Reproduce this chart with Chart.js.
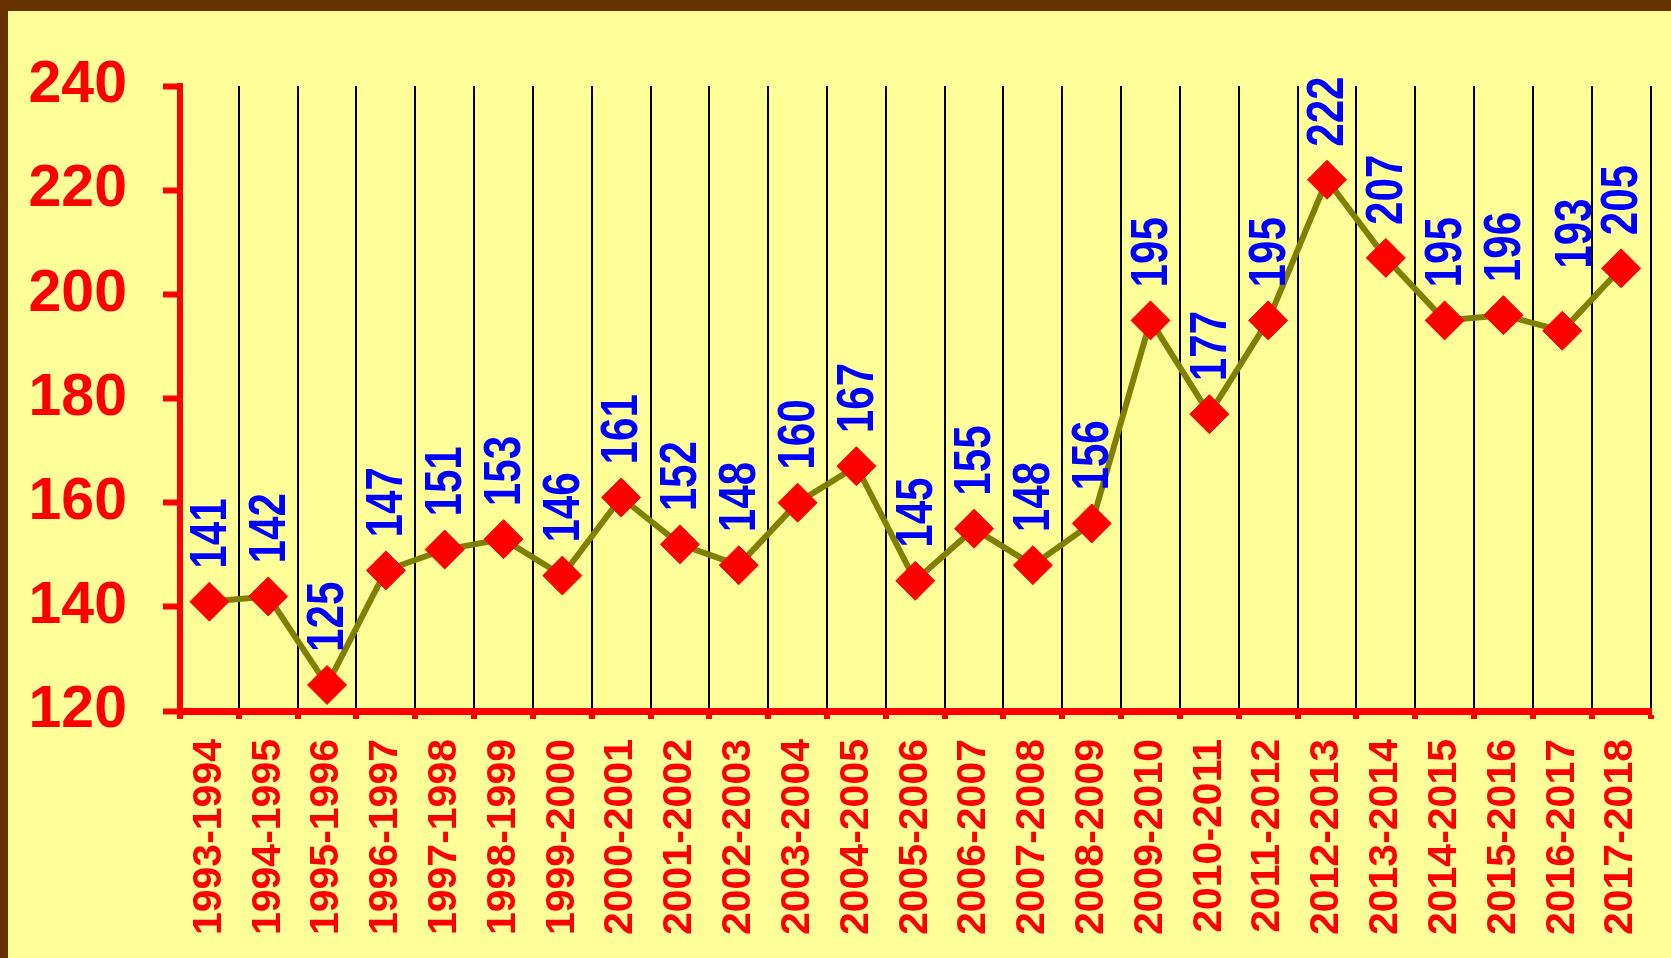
<!DOCTYPE html>
<html>
<head>
<meta charset="utf-8">
<script src="https://cdn.jsdelivr.net/npm/chart.js"></script>
<style>
    html, body { margin: 0; padding: 0; background: #663300; width: 1671px; height: 958px; overflow: hidden; }
    #wrap { position: absolute; left: 8px; top: 11px; width: 1663px; height: 947px; background: #FFFF99; }
</style>
</head>
<body>
<div id="wrap"><canvas id="lineChart" width="1663" height="947"></canvas></div>
<script>
// Seasons (x axis)
const seasons = ['1993-1994', '1994-1995', '1995-1996', '1996-1997', '1997-1998', '1998-1999', '1999-2000',
    '2000-2001', '2001-2002', '2002-2003', '2003-2004', '2004-2005', '2005-2006', '2006-2007', '2007-2008',
    '2008-2009', '2009-2010', '2010-2011', '2011-2012', '2012-2013', '2013-2014', '2014-2015', '2015-2016',
    '2016-2017', '2017-2018'];

// Values per season
const values = [141, 142, 125, 147, 151, 153, 146, 161, 152, 148, 160, 167, 145, 155, 148, 156,
    195, 177, 195, 222, 207, 195, 196, 193, 205];

// Y axis ticks
const yTicks = [120, 140, 160, 180, 200, 220, 240];

const fontFamily = "'Liberation Sans', Arial, sans-serif";

// Labels drawn rotated above each diamond
const valueLabels = {
    id: 'valueLabels',
    afterDatasetsDraw(chart) {
        const ctx = chart.ctx;
        const meta = chart.getDatasetMeta(0);
        ctx.save();
        ctx.fillStyle = '#0000FF';
        ctx.font = 'bold 52px ' + fontFamily;
        ctx.textAlign = 'left';
        ctx.textBaseline = 'middle';
        meta.data.forEach((pt, i) => {
            let dx = 2, gap = 33;
            if (i === 23) { dx = 14; gap = 62; } // 2016-2017 label sits higher in the original
            ctx.save();
            ctx.translate(pt.x + dx, pt.y - gap);
            ctx.rotate(-Math.PI / 2);
            ctx.scale(0.81, 1);
            ctx.fillText(String(values[i]), 0, 0);
            ctx.restore();
        });
        ctx.restore();
    }
};

const ctx = document.getElementById('lineChart').getContext('2d');

const lineChart = new Chart(ctx, {
    type: 'line',
    data: {
        labels: seasons,
        datasets: [{
            data: values,
            borderColor: '#808000',
            borderWidth: 6,
            tension: 0,
            pointStyle: 'rectRot',
            pointRadius: 19.5,
            pointBackgroundColor: '#FF0000',
            pointBorderColor: '#FF0000',
            pointBorderWidth: 1,
            clip: false
        }]
    },
    options: {
        responsive: false,
        animation: false,
        layout: { padding: { left: 0, top: 75, right: 18, bottom: 0 } },
        plugins: {
            legend: { display: false },
            tooltip: { enabled: false }
        },
        scales: {
            x: {
                offset: true,
                grid: {
                    offset: true,
                    color: '#000000',
                    lineWidth: 2,
                    drawOnChartArea: true,
                    tickColor: '#FF0000',
                    tickWidth: 6,
                    tickLength: 8
                },
                border: { color: '#FF0000', width: 7 },
                ticks: {
                    color: '#FF0000',
                    font: { family: fontFamily, size: 41, weight: 'bold' },
                    minRotation: 90,
                    maxRotation: 90,
                    padding: 20,
                    autoSkip: false
                },
                afterFit(scale) {
                    scale.height = 247;
                    scale.paddingLeft = 0;
                    scale.paddingRight = 0;
                }
            },
            y: {
                min: yTicks[0],
                max: yTicks[yTicks.length - 1],
                afterBuildTicks(scale) { scale.ticks = yTicks.map(v => ({ value: v })); },
                grid: {
                    drawOnChartArea: false,
                    tickColor: '#FF0000',
                    tickWidth: 6,
                    tickLength: 17
                },
                border: { color: '#FF0000', width: 6 },
                ticks: {
                    color: '#FF0000',
                    font: { family: fontFamily, size: 59, weight: 'bold' },
                    padding: 36
                },
                afterFit(scale) {
                    scale.width = 172;
                    scale.paddingTop = 0;
                    scale.paddingBottom = 0;
                }
            }
        }
    },
    plugins: [valueLabels]
});
</script>
</body>
</html>
